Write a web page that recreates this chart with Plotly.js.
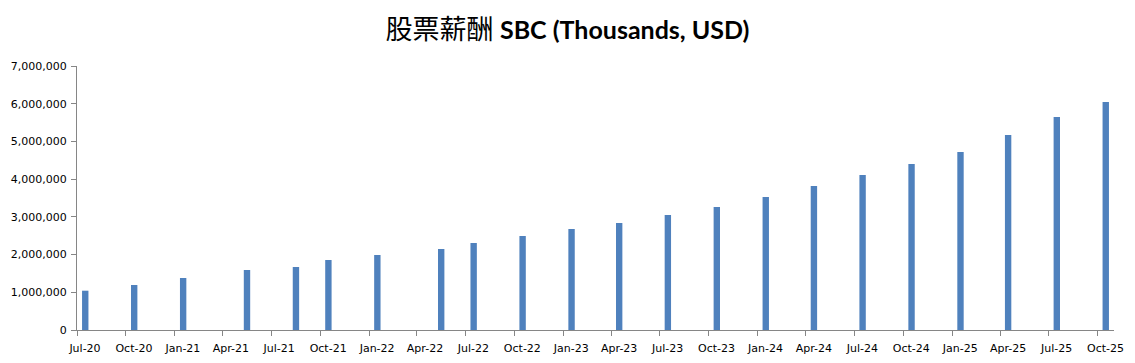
<!DOCTYPE html>
<html>
<head>
<meta charset="utf-8">
<script src="https://cdn.plot.ly/plotly-3.0.1.min.js"></script>
<style>html,body{margin:0;padding:0;background:#fff;}#chart{width:1135px;height:363px;}</style>
</head>
<body>
<div id="chart"></div>
<script>
// Month of each reported value (bars sit in the middle of their month)
const months = ['2020-07','2020-10','2021-01','2021-05','2021-08','2021-10','2022-01',
  '2022-05','2022-07','2022-10','2023-01','2023-04','2023-07','2023-10','2024-01',
  '2024-04','2024-07','2024-10','2025-01','2025-04','2025-07','2025-10'];
// SBC, thousands of USD
const sbcValues = [1042000,1193000,1379000,1591000,1671000,1856000,1989000,
  2148000,2307000,2493000,2678000,2837000,3050000,3262000,3527000,
  3819000,4110000,4402000,4720000,5171000,5648000,6046000];
const titleZh = '股票薪酬';
const titleEn = 'SBC (Thousands, USD)';
const xRange = ['2020-07-01','2025-11-01'];
const yTicks = [0,1000000,2000000,3000000,4000000,5000000,6000000,7000000];

const DAY = 86400000;
const trace = {
  type: 'bar',
  x: months,
  y: sbcValues,
  xperiod: 'M1',
  xperiodalignment: 'middle',
  width: months.map(() => 12 * DAY),
  marker: {color: '#4F81BD', line: {width: 0}},
  hoverinfo: 'x+y'
};

const layout = {
  width: 1135,
  height: 363,
  margin: {l: 77, r: 21, t: 66, b: 33},
  paper_bgcolor: '#ffffff',
  plot_bgcolor: '#ffffff',
  showlegend: false,
  font: {family: 'DejaVu Sans, Verdana, sans-serif', size: 11, color: '#000'},
  title: {
    text: '<span style="font-family:\'Noto Sans CJK TC\';font-size:27px">' + titleZh + '</span> <b>' + titleEn + '</b>',
    font: {family: 'Lato, "Noto Sans CJK TC", sans-serif', size: 25, color: '#000'},
    x: 0.5, xref: 'container', xanchor: 'center',
    y: 1 - 30/363, yref: 'container', yanchor: 'middle'
  },
  xaxis: {
    type: 'date',
    range: xRange,
    tick0: '2020-07-01',
    dtick: 'M3',
    tickformat: '%b-%y',
    ticklabelmode: 'instant',
    ticklabelshift: 8,
    ticklabelstandoff: 3,
    ticks: 'outside',
    ticklen: 5,
    tickcolor: '#868686',
    showline: true,
    linecolor: '#868686',
    linewidth: 1,
    showgrid: false,
    zeroline: false,
    tickfont: {size: 11, color: '#000'}
  },
  yaxis: {
    range: [0, 7000000],
    tickvals: yTicks,
    tickformat: ',d',
    ticks: 'outside',
    ticklen: 5,
    ticklabelstandoff: 2,
    tickcolor: '#868686',
    showline: true,
    linecolor: '#868686',
    linewidth: 1,
    showgrid: false,
    zeroline: false,
    tickfont: {size: 11, color: '#000'}
  }
};

Plotly.newPlot('chart', [trace], layout, {displayModeBar: false, staticPlot: true});
</script>
</body>
</html>
